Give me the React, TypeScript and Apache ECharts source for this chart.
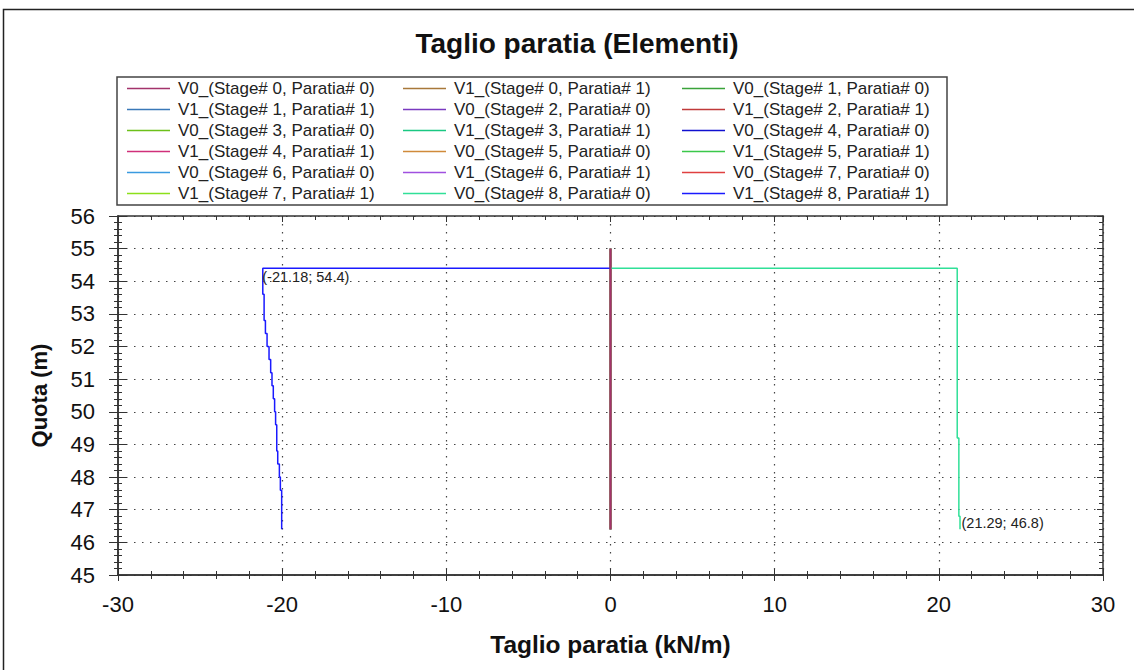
import React, { useEffect, useRef } from "react";
import * as echarts from "echarts";

// ---- data ----
const stages = [0, 1, 2, 3, 4, 5, 6, 7, 8];
const paratie = [0, 1];
const seriesColors = [
  "#a3336b", "#a8783a", "#3aa33a", "#3a78b8", "#7a3ac0", "#c03a3a",
  "#6cc01a", "#1ac882", "#1010d0", "#d0307a", "#d08a3a", "#3ac84a",
  "#3a9ae0", "#a050e0", "#e04040", "#8ce01a", "#30e098", "#1a1aff",
];
// zero shear for stages 0..7 (element from 55 to 46.4 m)
const zeroElev = [55.0, 46.4];
const zeroShear = [0];
// V1_(Stage# 8, Paratia# 1)
const blueElev = [54.4, 53.6, 52.8, 52.4, 52.0, 51.6, 51.2, 50.8, 50.4, 50.0, 49.6, 48.8, 48.4, 48.0, 47.6, 46.4];
const blueShear = [-21.18, -21.1, -21.02, -20.92, -20.8, -20.7, -20.62, -20.54, -20.46, -20.4, -20.33, -20.27, -20.17, -20.11, -20.03];
// V0_(Stage# 8, Paratia# 0)
const greenElev = [54.4, 49.2, 46.8, 46.4];
const greenShear = [21.12, 21.22, 21.29];
// annotations
const minPoint = [-21.18, 54.4];
const maxPoint = [21.29, 46.8];
const xTicks = { min: -30, max: 30, interval: 10 };
const yTicks = { min: 45, max: 56, interval: 1 };

const FONT = "'Liberation Sans', Arial, sans-serif";

function stair(elev: number[], shear: number[], startAtZero: boolean) {
  const pts: number[][] = [];
  if (startAtZero) pts.push([0, elev[0]]);
  for (let i = 0; i < shear.length; i++) {
    pts.push([shear[i], elev[i]]);
    pts.push([shear[i], elev[i + 1]]);
  }
  return pts;
}

function annot(pt: number[], pos: number[]) {
  return {
    symbol: "circle",
    symbolSize: 1,
    itemStyle: { color: "transparent" },
    data: [
      {
        coord: pt,
        label: {
          show: true,
          formatter: `(${pt[0].toFixed(2)}; ${pt[1].toFixed(1)})`,
          position: pos,
          align: "left",
          verticalAlign: "top",
          color: "#222",
          fontSize: 14.5,
          fontFamily: FONT,
        },
      },
    ],
  };
}

export default function App() {
  const ref = useRef<HTMLDivElement>(null);
  useEffect(() => {
    if (!ref.current) return;
    const chart = echarts.init(ref.current, undefined, { renderer: "svg" });

    const names: string[] = [];
    const series: any[] = [];
    let idx = 0;
    stages.forEach((s) => {
      paratie.forEach((p) => {
        const name = `V${p}_(Stage# ${s}, Paratia# ${p})`;
        names.push(name);
        let data: number[][];
        let markPoint: any = undefined;
        if (s < 8) {
          data = stair(zeroElev, zeroShear, false);
        } else if (p === 1) {
          data = stair(blueElev, blueShear, true);
          markPoint = annot(minPoint, [0, 2]);
        } else {
          data = stair(greenElev, greenShear, true);
          markPoint = annot(maxPoint, [2, 0]);
        }
        series.push({
          type: "line",
          name,
          data,
          xAxisIndex: 0,
          yAxisIndex: 0,
          symbol: "none",
          color: seriesColors[idx],
          lineStyle: { width: s === 0 && p === 0 ? 2 : 1.5, color: seriesColors[idx] },
          z: s === 0 && p === 0 ? 4 : 2,
          markPoint,
          silent: true,
        });
        idx++;
      });
    });

    const colLefts = [122, 398, 677];
    const legends = [0, 1, 2].map((c) => ({
      orient: "vertical",
      left: colLefts[c],
      top: 75,
      itemWidth: 43,
      itemHeight: 14,
      itemGap: 4.0,
      icon: "path://M0,0M0,6.25H43V7.75H0ZM43,14",
      selectedMode: false,
      data: names.filter((_, i) => i % 3 === c),
      textStyle: { fontSize: 17, lineHeight: 16, fontFamily: FONT, color: "#222", padding: [0, 0, 0, 3] },
    }));

    const axisLine = { show: true, onZero: false, lineStyle: { color: "#333", width: 1.5 } };
    const baseX = { type: "value", min: xTicks.min, max: xTicks.max, interval: xTicks.interval, gridIndex: 0 };
    const baseY = { type: "value", min: yTicks.min, max: yTicks.max, interval: yTicks.interval, gridIndex: 0 };
    const tickStyle = { color: "#333" };

    chart.setOption({
      animation: false,
      backgroundColor: "#fff",
      title: {
        text: "Taglio paratia (Elementi)",
        left: 572,
        top: 24,
        textAlign: "center",
        textStyle: { fontSize: 28, fontWeight: "bold", fontFamily: FONT, color: "#111" },
      },
      legend: legends,
      grid: { left: 118, right: 31, top: 216, bottom: 95, containLabel: false },
      xAxis: [
        {
          ...baseX,
          position: "bottom",
          name: "Taglio paratia (kN/m)",
          nameLocation: "middle",
          nameGap: 57,
          nameTextStyle: { fontSize: 24.5, fontWeight: "bold", fontFamily: FONT, color: "#111" },
          axisLine,
          axisTick: { show: true, inside: false, length: 6, lineStyle: tickStyle },
          minorTick: { show: true, splitNumber: 5, length: 4, lineStyle: tickStyle },
          axisLabel: { fontSize: 22, fontFamily: FONT, color: "#111", margin: 18 },
          splitLine: { show: true, lineStyle: { color: "#444", width: 1.2, type: [1.5, 6.5] } },
        },
        {
          ...baseX,
          position: "bottom",
          axisLine,
          axisTick: { show: true, inside: true, length: 6, lineStyle: tickStyle },
          minorTick: { show: true, splitNumber: 5, length: 4, lineStyle: tickStyle },
          axisLabel: { show: false },
          splitLine: { show: false },
        },
        {
          ...baseX,
          position: "top",
          axisLine,
          axisTick: { show: true, inside: true, length: 6, lineStyle: tickStyle },
          minorTick: { show: true, splitNumber: 5, length: 4, lineStyle: tickStyle },
          axisLabel: { show: false },
          splitLine: { show: false },
        },
      ],
      yAxis: [
        {
          ...baseY,
          position: "left",
          name: "Quota (m)",
          nameLocation: "middle",
          nameGap: 68,
          nameRotate: 90,
          nameTextStyle: { fontSize: 22, fontWeight: "bold", fontFamily: FONT, color: "#111" },
          axisLine,
          axisTick: { show: true, inside: false, length: 9, lineStyle: tickStyle },
          minorTick: { show: true, splitNumber: 5, length: 4, lineStyle: tickStyle },
          axisLabel: { fontSize: 22, fontFamily: FONT, color: "#111", margin: 23 },
          splitLine: { show: true, lineStyle: { color: "#444", width: 1.2, type: [1.5, 6.5] } },
        },
        {
          ...baseY,
          position: "left",
          axisLine,
          axisTick: { show: true, inside: true, length: 9, lineStyle: tickStyle },
          minorTick: { show: true, splitNumber: 5, length: 4, lineStyle: tickStyle },
          axisLabel: { show: false },
          splitLine: { show: false },
        },
        {
          ...baseY,
          position: "right",
          axisLine,
          axisTick: { show: true, inside: true, length: 6, lineStyle: tickStyle },
          minorTick: { show: true, splitNumber: 5, length: 4, lineStyle: tickStyle },
          axisLabel: { show: false },
          splitLine: { show: false },
        },
      ],
      graphic: [
        {
          type: "rect",
          z: -10,
          shape: { x: 3.5, y: 9.5, width: 1200, height: 700 },
          style: { fill: "none", stroke: "#222", lineWidth: 1.5 },
          silent: true,
        },
        {
          type: "rect",
          z: -10,
          shape: { x: 117, y: 77, width: 830, height: 128 },
          style: { fill: "none", stroke: "#444", lineWidth: 1.5 },
          silent: true,
        },
      ],
      series,
    });
    return () => chart.dispose();
  }, []);
  return (
    <div
      ref={ref}
      style={{ position: "fixed", left: 0, top: 0, width: 1134, height: 670, background: "#fff" }}
    />
  );
}
